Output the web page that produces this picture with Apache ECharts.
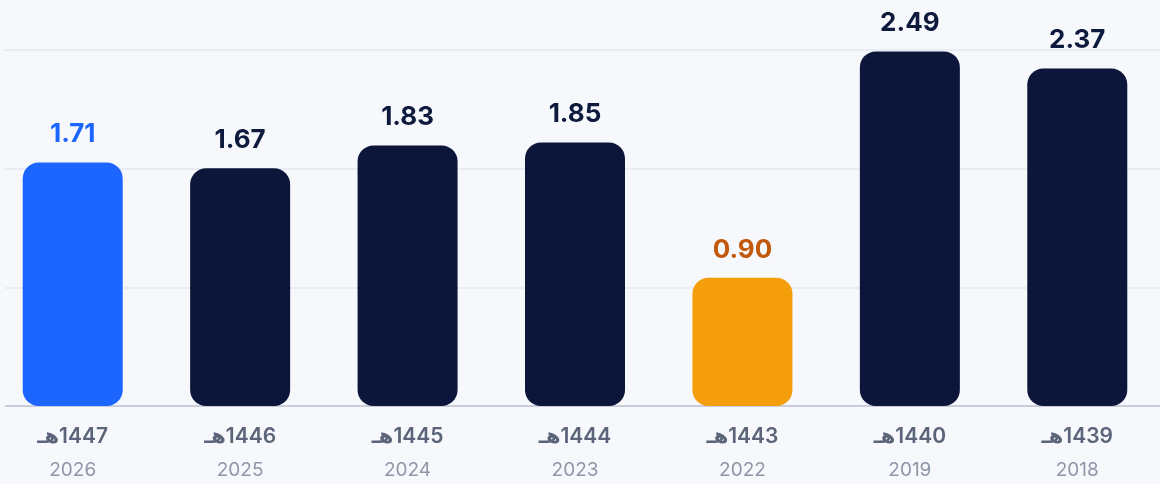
<!DOCTYPE html>
<html>
<head>
<meta charset="utf-8">
<script src="https://cdn.jsdelivr.net/npm/echarts@6/dist/echarts.min.js"></script>
<style>
html,body{margin:0;padding:0;background:#f7f8fc;overflow:hidden;width:1160px;height:484px;}
#chart{position:absolute;left:-11px;top:0;width:1172px;height:484px;}
</style>
</head>
<body>
<div id="chart"></div>
<script>
const hijriYears = ['1447هـ','1446هـ','1445هـ','1444هـ','1443هـ','1440هـ','1439هـ'];
const gregorianYears = ['2026','2025','2024','2023','2022','2019','2018'];
const values = [1.71, 1.67, 1.83, 1.85, 0.90, 2.49, 2.37];
const barColors = ['#1c66ff','#0c163a','#0c163a','#0c163a','#f59e0c','#0c163a','#0c163a'];
const labelColors = ['#1c66ff','#0e1a3d','#0e1a3d','#0e1a3d','#c2580c','#0e1a3d','#0e1a3d'];

const categories = hijriYears.map((h, i) => i);

const chart = echarts.init(document.getElementById('chart'), null, {renderer: 'canvas'});
chart.setOption({
  backgroundColor: '#f7f8fc',
  animation: false,
  grid: {left: 0, right: 0, top: 50, bottom: 78, containLabel: false},
  xAxis: {
    type: 'category',
    data: categories,
    axisLine: {show: true, lineStyle: {color: '#c8cdd9', width: 2}},
    axisTick: {show: false},
    axisLabel: {
      margin: 15,
      interval: 0,
      formatter: function (v, i) {
        return '{h|\u202B' + hijriYears[i] + '\u202C}\n{y|' + gregorianYears[i] + '}';
      },
      rich: {
        h: {fontFamily: 'Inter, "DejaVu Sans", sans-serif', fontSize: 21, fontWeight: 600, color: '#5b6478', lineHeight: 32, align: 'center'},
        y: {fontFamily: 'Inter, sans-serif', fontSize: 19, fontWeight: 400, color: '#8e96a8', lineHeight: 35, align: 'center'}
      }
    }
  },
  yAxis: {
    type: 'value',
    min: 0,
    max: 2.5,
    interval: 2.5 / 3,
    axisLine: {show: false},
    axisTick: {show: false},
    axisLabel: {show: false},
    splitLine: {show: true, lineStyle: {color: '#e5e8f0', width: 1.5}}
  },
  series: [{
    type: 'bar',
    barWidth: 100,
    data: values.map((v, i) => ({
      value: v,
      itemStyle: {color: barColors[i], borderRadius: 16},
      label: {color: labelColors[i]}
    })),
    label: {
      show: true,
      position: 'top',
      distance: 15,
      fontFamily: 'Inter, sans-serif',
      fontSize: 26,
      fontWeight: 700,
      formatter: p => p.value.toFixed(2)
    }
  }],
  graphic: [{
    type: 'rect',
    z: 100,
    shape: {x: 0, y: 0, width: 16, height: 484},
    style: {fill: '#f7f8fc'}
  }]
});
</script>
</body>
</html>
